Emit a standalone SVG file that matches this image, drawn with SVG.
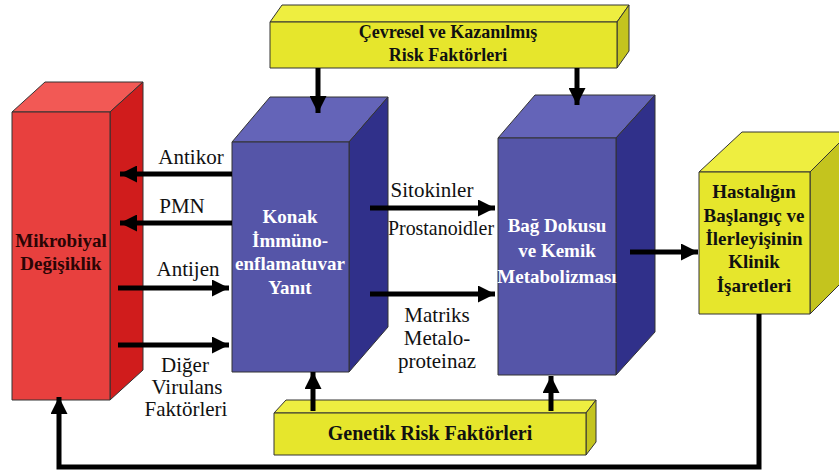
<svg xmlns="http://www.w3.org/2000/svg" width="839" height="472" viewBox="0 0 839 472">
<style>
.edge{fill:none;stroke:#000;stroke-width:5}
.lbl{font-family:"Liberation Serif","Times New Roman",serif;font-size:21px;fill:#111;text-anchor:middle}
.bt{font-family:"Liberation Serif","Times New Roman",serif;font-weight:bold;font-size:19px;text-anchor:middle}
.w{fill:#fff}
.k{fill:#111}
.dr{fill:#2a0505}
.o{stroke:#333;stroke-width:1;stroke-linejoin:round}
.rf{fill:#e8403e}.rt{fill:#f25955}.rs{fill:#d01c1c}
.bf{fill:#5555a8}.btp{fill:#6464b8}.bs{fill:#30308a}
.yf{fill:#e6e62c}.yt{fill:#eeee40}.ys{fill:#c4c41e}
</style>
<defs>
<marker id="ah" viewBox="0 0 10 10" refX="10" refY="5" markerWidth="17" markerHeight="17" markerUnits="userSpaceOnUse" orient="auto">
<path d="M0,0 L10,5 L0,10 z" fill="#000"/>
</marker>
</defs>

<g id="cevresel">
<polygon class="yt o" points="270,22 282,5 629,5 617,22"/>
<polygon class="ys o" points="617,22 629,5 629,51 617,68"/>
<rect class="yf o" x="270" y="22" width="347" height="46"/>
<text class="bt k" x="448" y="38" style="font-size:18px">Çevresel ve Kazanılmış</text>
<text class="bt k" x="448" y="61" style="font-size:18px">Risk Faktörleri</text>
</g>

<g id="genetik">
<polygon class="yt o" points="274,413 286,400 596,400 586,413"/>
<polygon class="ys o" points="586,413 596,400 596,442 586,455"/>
<rect class="yf o" x="274" y="413" width="312" height="42"/>
<text class="bt k" x="430" y="440" style="font-size:20px">Genetik Risk Faktörleri</text>
</g>

<g id="mikrobiyal">
<polygon class="rt o" points="12,112 45,82 143,82 110,112"/>
<polygon class="rs o" points="110,112 143,82 143,370 110,400"/>
<rect class="rf o" x="12" y="112" width="98" height="288"/>
<text class="bt dr" x="61" y="247">Mikrobiyal</text>
<text class="bt dr" x="61" y="270">Değişiklik</text>
</g>

<g id="konak">
<polygon class="btp o" points="232,142 270,97 388,97 349,142"/>
<polygon class="bs o" points="349,142 388,97 388,327 349,372"/>
<rect class="bf o" x="232" y="142" width="117" height="230"/>
<text class="bt w" x="290" y="223">Konak</text>
<text class="bt w" x="290" y="247">İmmüno-</text>
<text class="bt w" x="290" y="270">enflamatuvar</text>
<text class="bt w" x="290" y="294">Yanıt</text>
</g>

<g id="bag">
<polygon class="btp o" points="498,138 535,95 655,95 616,138"/>
<polygon class="bs o" points="616,138 655,95 655,332 616,375"/>
<rect class="bf o" x="498" y="138" width="118" height="237"/>
<text class="bt w" x="557" y="232">Bağ Dokusu</text>
<text class="bt w" x="557" y="257">ve Kemik</text>
<text class="bt w" x="557" y="283">Metabolizması</text>
</g>

<g id="hastalik">
<polygon class="yt o" points="699,172 742,132 850,132 810,172"/>
<polygon class="ys o" points="810,172 850,132 850,274 810,314"/>
<rect class="yf o" x="699" y="172" width="111" height="142"/>
<text class="bt k" x="754" y="198">Hastalığın</text>
<text class="bt k" x="754" y="222">Başlangıç ve</text>
<text class="bt k" x="754" y="245">İlerleyişinin</text>
<text class="bt k" x="754" y="268">Klinik</text>
<text class="bt k" x="754" y="292">İşaretleri</text>
</g>

<g id="connectors">
<path class="edge" d="M318,68 V113" marker-end="url(#ah)"/>
<path class="edge" d="M577,68 V105" marker-end="url(#ah)"/>
<path class="edge" d="M313,411 V372" marker-end="url(#ah)"/>
<path class="edge" d="M551,411 V376" marker-end="url(#ah)"/>
<path class="edge" d="M232,174 H120" marker-end="url(#ah)"/>
<path class="edge" d="M232,223 H120" marker-end="url(#ah)"/>
<path class="edge" d="M118,288 H229" marker-end="url(#ah)"/>
<path class="edge" d="M118,345 H229" marker-end="url(#ah)"/>
<path class="edge" d="M370,208 H495" marker-end="url(#ah)"/>
<path class="edge" d="M370,294 H495" marker-end="url(#ah)"/>
<path class="edge" d="M630,252 H698" marker-end="url(#ah)"/>
<path class="edge" d="M759,314 V467 H59 V397" marker-end="url(#ah)"/>
<text class="lbl" x="191" y="164">Antikor</text>
<text class="lbl" x="182" y="213">PMN</text>
<text class="lbl" x="188" y="276">Antijen</text>
<text class="lbl" x="185" y="372">Diğer</text>
<text class="lbl" x="187" y="394">Virulans</text>
<text class="lbl" x="186" y="416">Faktörleri</text>
<text class="lbl" x="432" y="197">Sitokinler</text>
<text class="lbl" x="441" y="235" textLength="106" lengthAdjust="spacingAndGlyphs">Prostanoidler</text>
<text class="lbl" x="437" y="322">Matriks</text>
<text class="lbl" x="437" y="345">Metalo-</text>
<text class="lbl" x="437" y="368">proteinaz</text>
</g>
</svg>
